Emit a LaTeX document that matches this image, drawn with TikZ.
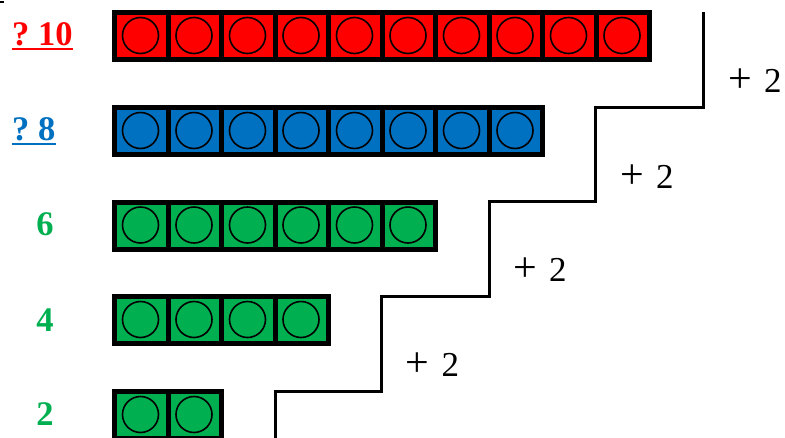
\documentclass[tikz,border=0pt]{standalone}
\usepackage{fontspec}
\setmainfont{Liberation Serif}
\definecolor{cred}{HTML}{FF0000}
\definecolor{cblue}{HTML}{0070C0}
\definecolor{cgreen}{HTML}{00B050}
\newcommand\drawtrain[3]{% #1 top y, #2 n, #3 colour
  \path[fill=black] (112,#1) rectangle ({112+#2*53.5+5},{#1+52});
  \foreach \i in {1,...,#2} {
    \path[fill=#3] ({117+(\i-1)*53.5},{#1+5}) rectangle ({117+(\i-1)*53.5+48.5},{#1+47});
    \draw[line width=1.6pt] ({117+(\i-1)*53.5+23.5},{#1+25.5}) circle[radius=18pt];
  }%
}
\newcommand\plustwo{\scalebox{1.2}{+}\hspace{0.35em}2}
\begin{document}
\begin{tikzpicture}[x=1pt,y=-1pt,
  numlbl/.style={inner sep=0pt, anchor=base, font=\fontsize{34.5}{38}\selectfont\bfseries},
  qlbl/.style={inner sep=0pt, anchor=base west, font=\fontsize{34.5}{38}\selectfont\bfseries},
  steplbl/.style={inner sep=0pt, anchor=base, font=\fontsize{35}{38}\selectfont},
  stairline/.style={line width=3pt, line join=miter}]
\useasboundingbox (0,0) rectangle (785,437);
\fill[black] (0,0.8) rectangle (4,3.2);
% trains
\drawtrain{10}{10}{cred}
\drawtrain{105}{8}{cblue}
\drawtrain{199.5}{6}{cgreen}
\drawtrain{294}{4}{cgreen}
\drawtrain{389}{2}{cgreen}
% left labels
\node[qlbl, text=cred] (q10) at (12,45) {?\hspace{0.25em}10};
\draw[cred, line width=2.2pt] ([yshift=-3.6pt]q10.base west) -- ([yshift=-3.6pt]q10.base east);
\node[qlbl, text=cblue] (q8) at (12,140) {?\hspace{0.25em}8};
\draw[cblue, line width=2.2pt] ([yshift=-3.6pt]q8.base west) -- ([yshift=-3.6pt]q8.base east);
\node[numlbl, text=cgreen] (n6) at (45,235.5) {6};
\node[numlbl, text=cgreen] (n4) at (45,331.5) {4};
\node[numlbl, text=cgreen] (n2) at (45,425) {2};
% staircase
\draw[stairline] (703.5,12) -- (703.5,107) -- (595.5,107) -- (595.5,201.5) -- (489,201.5) -- (489,296) -- (381.5,296) -- (381.5,391) -- (275,391) -- (275,445);
% step labels
\node[steplbl] (s1) at (755,92) {\plustwo};
\node[steplbl] (s2) at (647,188) {\plustwo};
\node[steplbl] (s3) at (540,281.5) {\plustwo};
\node[steplbl] (s4) at (432.5,376.5) {\plustwo};
\end{tikzpicture}
\end{document}
